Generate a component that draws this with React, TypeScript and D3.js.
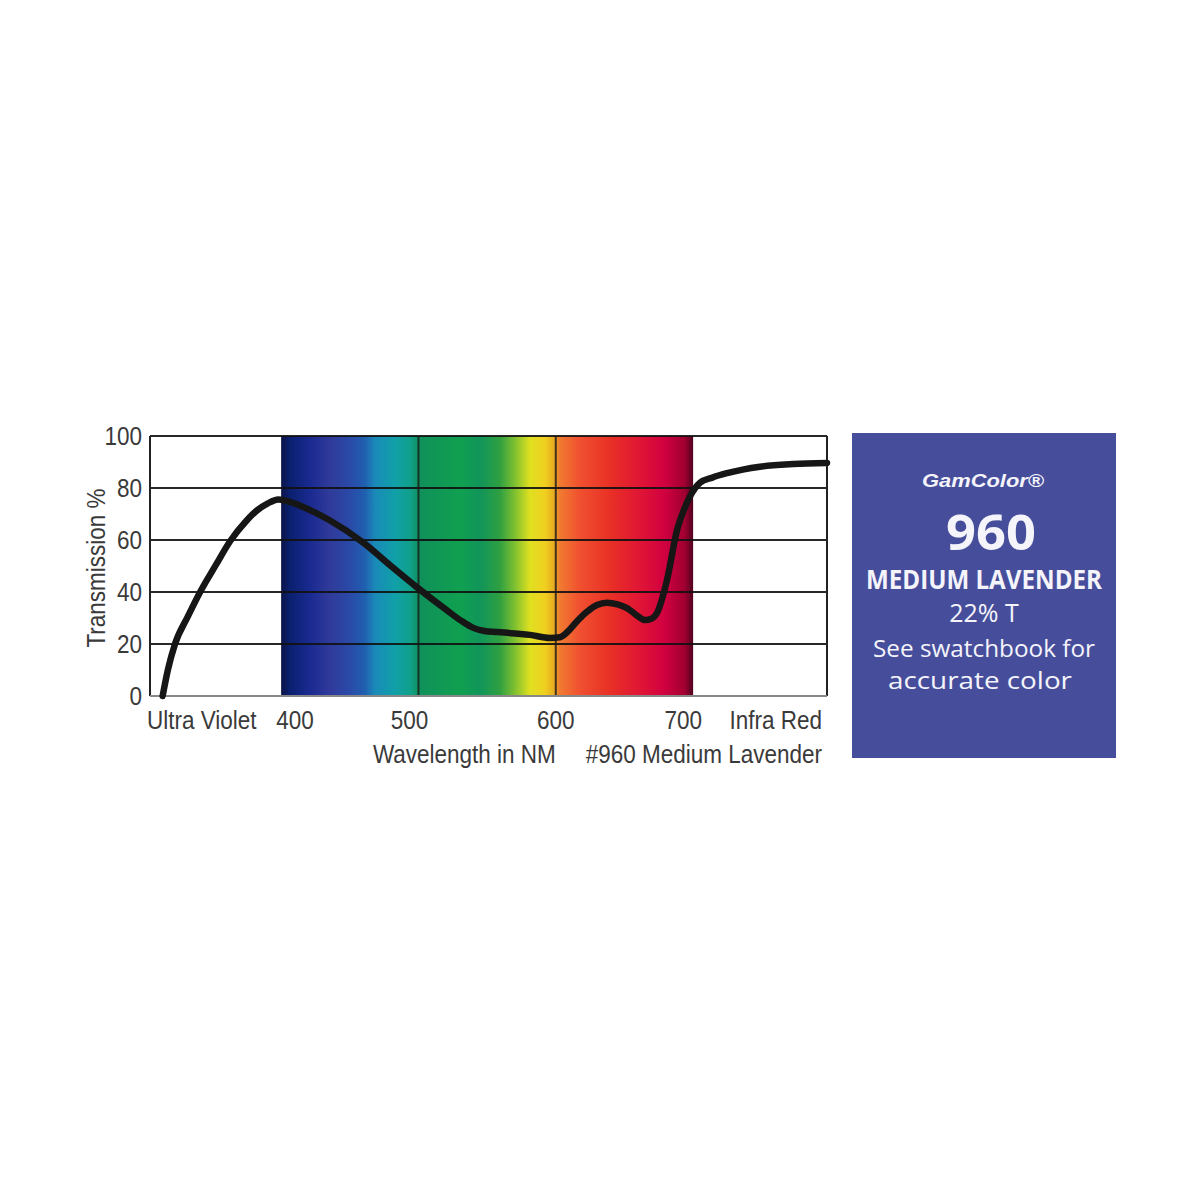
import React from "react";
import * as d3 from "d3";

// ---- data ----
const wavelengths = [313.7, 317.5, 322.7, 332, 341, 352.6, 362.8, 374.9, 382.2, 390, 397.9, 410, 423, 435.6, 459.8, 479.3, 499.9, 520.6, 531, 540, 548, 557, 581.2, 595.8, 603, 608.2, 615, 622.7, 630, 637.3, 645, 651.9, 659, 665, 670, 673.7, 681, 688.3, 694, 697.7, 705, 714, 724.7, 748.7, 772.8, 797.5];
const transmission = [0, 10, 20, 30.5, 40, 50.5, 59.5, 67.5, 71.3, 74, 75.6, 74, 71, 67.5, 59, 50.3, 41.4, 33, 29, 26.2, 25, 24.6, 23.5, 22.3, 22.6, 24.5, 28.5, 32.4, 35, 35.9, 35.2, 33.8, 31, 29.2, 29.8, 31.9, 44.6, 63.8, 72.5, 76.7, 82, 84, 85.7, 88.2, 89.2, 89.6];
const yTicks = [0, 20, 40, 60, 80, 100];
const xTicks = [400, 500, 600, 700];
const xGridTicks = [500, 600];
const spectrumNm = [400, 406.5, 421, 435.6, 450.2, 461, 468.4, 482.9, 494, 501.1, 530.2, 544.8, 559.4, 570.3, 581.2, 592.1, 598, 603, 617.6, 639.5, 661.3, 679.5, 694, 700];
const spectrumColors = ["#0b1448", "#0a2070", "#1a2a90", "#303a9a", "#2a4aa8", "#2060b0", "#1a8ab8", "#10a0a8", "#10a08a", "#10905a", "#10a050", "#10955a", "#30a040", "#80c030", "#e0e020", "#f0d020", "#e8b020", "#f07a30", "#f05030", "#e83025", "#e01535", "#d00040", "#a00030", "#500020"];
const boxLines = ["GamColor®", "960", "MEDIUM LAVENDER", "22% T", "See swatchbook for", "accurate color"];
const xLabelLeft = "Ultra Violet";
const xLabelRight = "Infra Red";
const xTitle = "Wavelength in NM";
const filterName = "#960 Medium Lavender";
const yTitle = "Transmission %";

const W = 1200;
const H = 1200;
const plot = { left: 150, right: 827, top: 436, bottom: 696 };

const x = d3.scaleLinear().domain([304.5, 797.5]).range([plot.left, plot.right]);
const y = d3.scaleLinear().domain([0, 100]).range([plot.bottom, plot.top]);

const points: [number, number][] = wavelengths.map((w, i) => [w, transmission[i]]);
const line = d3
  .line<[number, number]>()
  .x((d) => x(d[0]))
  .y((d) => y(d[1]))
  .curve(d3.curveMonotoneX);

const FONT = "'Liberation Sans', Arial, sans-serif";
const TXT = "#3a3a3a";
const SX = 0.9;

function SText(props: { x: number; y: number; anchor?: string; children: string; rotate?: number }) {
  const { x: tx, y: ty, anchor = "start", children, rotate = 0 } = props;
  return (
    <text
      transform={`translate(${tx},${ty}) rotate(${rotate}) scale(${SX},1)`}
      textAnchor={anchor}
      fontFamily={FONT}
      fontSize={25}
      fill={TXT}
    >
      {children}
    </text>
  );
}

// label placement style: first tick label left-aligned, last right-aligned
const tickAnchor = (i: number, n: number) => (i === 0 ? "start" : i === n - 1 ? "end" : "middle");
const tickShift = (i: number, n: number) => (i === 0 ? -5 : i === n - 1 ? 9 : i === 1 ? -9 : 0);

export default function App() {
  const specX0 = x(spectrumNm[0]);
  const specX1 = x(spectrumNm[spectrumNm.length - 1]);
  const boxX = 852;
  const boxY = 433;
  const boxW = 264;
  const boxH = 325;
  const bc = boxX + boxW / 2;
  return (
    <svg width={W} height={H} style={{ position: "absolute", left: 0, top: 0, background: "#fff" }}>
      <defs>
        <linearGradient id="spec" x1={specX0} x2={specX1} y1={0} y2={0} gradientUnits="userSpaceOnUse">
          {spectrumNm.map((nm, i) => (
            <stop key={nm} offset={(x(nm) - specX0) / (specX1 - specX0)} stopColor={spectrumColors[i]} />
          ))}
        </linearGradient>
      </defs>
      <rect x={0} y={0} width={W} height={H} fill="#fff" />

      {/* spectrum band */}
      <rect x={specX0} y={plot.top} width={specX1 - specX0} height={plot.bottom - plot.top} fill="url(#spec)" />

      {/* horizontal grid */}
      {yTicks.filter((t) => t > 0).map((t) => (
        <line key={t} x1={plot.left} x2={plot.right} y1={y(t)} y2={y(t)} stroke="#111" strokeWidth={2.2} opacity={0.9} />
      ))}
      {/* vertical grid inside spectrum */}
      {xGridTicks.map((t) => (
        <line key={t} x1={x(t)} x2={x(t)} y1={plot.top} y2={plot.bottom} stroke="#1a1a1a" strokeWidth={2} opacity={0.8} />
      ))}
      {/* frame */}
      <line x1={plot.left} x2={plot.left} y1={plot.top} y2={plot.bottom} stroke="#222" strokeWidth={2} />
      <line x1={plot.right} x2={plot.right} y1={plot.top} y2={plot.bottom} stroke="#222" strokeWidth={2} />
      <line x1={plot.left} x2={plot.right} y1={plot.bottom} y2={plot.bottom} stroke="#888" strokeWidth={2} />

      {/* curve */}
      <path d={line(points) || ""} fill="none" stroke="#161616" strokeWidth={6.5} strokeLinecap="round" strokeLinejoin="round" />

      {/* y tick labels */}
      {yTicks.map((t) => (
        <SText key={t} x={142} y={y(t) + 9} anchor="end">{String(t)}</SText>
      ))}
      <SText x={105} y={568} anchor="middle" rotate={-90}>{yTitle}</SText>

      {/* x labels */}
      <SText x={147} y={729} anchor="start">{xLabelLeft}</SText>
      {xTicks.map((t, i) => (
        <SText key={t} x={x(t) + tickShift(i, xTicks.length)} y={729} anchor={tickAnchor(i, xTicks.length)}>{String(t)}</SText>
      ))}
      <SText x={822} y={729} anchor="end">{xLabelRight}</SText>
      <SText x={x(600)} y={763} anchor="end">{xTitle}</SText>
      <SText x={822} y={763} anchor="end">{filterName}</SText>

      {/* info box */}
      <rect x={boxX} y={boxY} width={boxW} height={boxH} fill="#464e9c" />
      <g fill="#f4f4fa" textAnchor="middle" fontFamily="'Open Sans', 'Noto Sans', sans-serif">
        <text x={bc - 1} y={487} fontSize={19} fontStyle="italic" fontWeight="bold" fontFamily="'Liberation Sans', Arial, sans-serif" textLength={122} lengthAdjust="spacingAndGlyphs">{boxLines[0]}</text>
        <text x={bc + 7} y={550} fontSize={49} fontWeight="bold" textLength={90} lengthAdjust="spacingAndGlyphs">{boxLines[1]}</text>
        <text x={bc} y={589} fontSize={27} fontWeight="bold" textLength={236} lengthAdjust="spacingAndGlyphs">{boxLines[2]}</text>
        <text x={bc} y={622} fontSize={25}>{boxLines[3]}</text>
        <text x={bc} y={657} fontSize={24} textLength={222} lengthAdjust="spacingAndGlyphs">{boxLines[4]}</text>
        <text x={bc - 4} y={689} fontSize={24} textLength={184} lengthAdjust="spacingAndGlyphs">{boxLines[5]}</text>
      </g>
    </svg>
  );
}
